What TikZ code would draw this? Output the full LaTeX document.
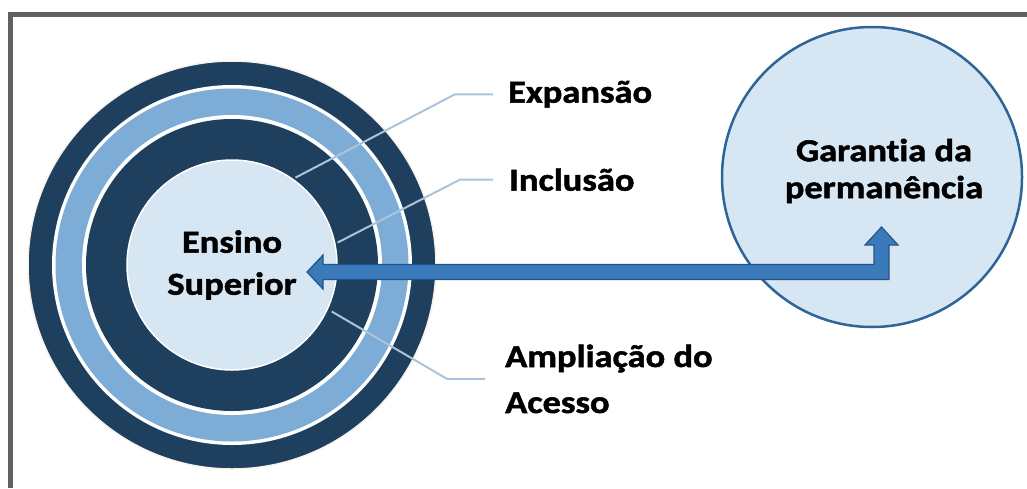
\documentclass[tikz,border=0pt]{standalone}
\usepackage{fontspec}
\setmainfont{Carlito}[FakeStretch=1.14,Ligatures=NoCommon,BoldFeatures={FakeBold=1.5}]
\definecolor{navy}{HTML}{1E3F5E}
\definecolor{sky}{HTML}{7DACD6}
\definecolor{pale}{HTML}{D6E6F3}
\definecolor{leadc}{HTML}{AAC4DC}
\definecolor{arrowfill}{HTML}{3A79BA}
\definecolor{arrowedge}{HTML}{285587}
\definecolor{garline}{HTML}{2E6496}
\definecolor{framec}{HTML}{606060}
\begin{document}
\begin{tikzpicture}[x=1pt,y=-1pt,
  font=\fontsize{32}{42}\selectfont\bfseries,
  core/.style={circle,fill=pale,draw=white,line width=1.5,minimum size=210,inner sep=0,align=center},
  bigc/.style={circle,fill=pale,draw=garline,line width=2.5,minimum size=300},
  lbl/.style={anchor=base west,inner sep=0,align=left},
  leader/.style={draw=leadc,line width=2},
  blockarrow/.style={fill=arrowfill,draw=arrowedge,line width=1.2}]
\useasboundingbox (0,0) rectangle (1027,488);
\draw[framec,line width=4.5] (10.3,488) -- (10.3,14.3) -- (1027,14.3);
% rings
\coordinate (c) at (232,265);
\draw[fill=navy,draw=white!90!brown,line width=1.5] (c) circle (204);
\foreach \r/\col in {180/white,176.5/sky,150/white,146/navy}
  \fill[\col] (c) circle (\r);
\node[core] (ens) at (c) {Ensino\\Superior};
% labels
\node[lbl] (exp) at (508,102.7) {Expansão};
\node[lbl] (inc) at (509,190.7) {Inclusão};
\node[lbl,font=\fontsize{32}{46}\selectfont\bfseries] (amp) at (505,413) {Ampliação do\\Acesso};
\draw[leader] (c) ++(-54:108) -- ([xshift=-53pt]exp.west) -- ([xshift=-15pt]exp.west);
\draw[leader] (c) ++(-12:108) -- ([xshift=-49pt]inc.west) -- ([xshift=-16pt]inc.west);
\draw[leader] (c) ++(25:110) -- ([xshift=-58pt]amp.west) -- ([xshift=-20pt]amp.west);
% right circle
\node[bigc] (gar) at (872,177) {};
% arrow
\coordinate (tipL) at (307,272);
\coordinate (tipU) at (881.5,227);
\draw[blockarrow] (tipL) -- (323,255) -- (323,264.5) -- (874,264.5) -- (874,245) -- (865,245)
  -- (tipU) -- (898,245) -- (889,245) -- (889,279.5) -- (323,279.5) -- (323,289) -- cycle;
\node[align=center,font=\fontsize{32}{37}\selectfont\bfseries] (gartxt) at (884,171) {Garantia da\\permanência};
\end{tikzpicture}
\end{document}
